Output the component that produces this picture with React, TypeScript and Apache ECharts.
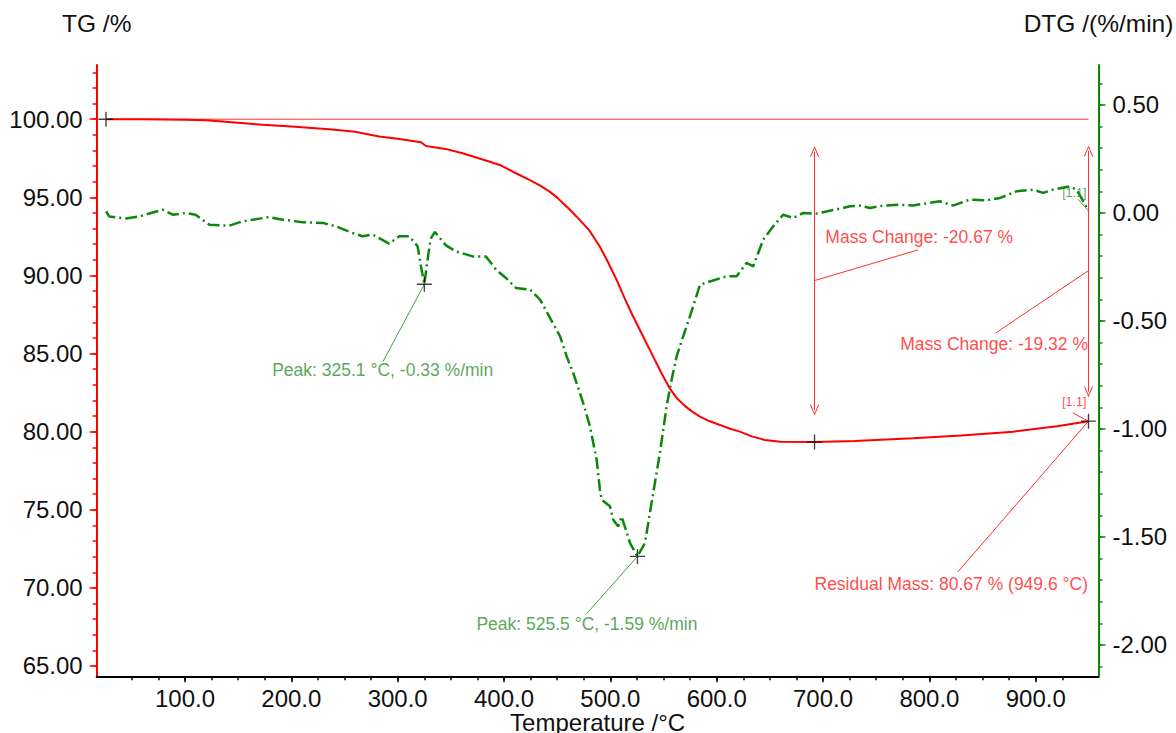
import React, { useEffect, useRef } from 'react';
import * as echarts from 'echarts';

// ---------- data ----------
const tgData: [number, number][] = [
  [25.7, 100.0], [60, 99.99], [100, 99.97], [120, 99.94], [150, 99.78], [173, 99.64],
  [200, 99.53], [235.6, 99.36], [260, 99.2], [282.7, 98.89], [300, 98.75], [322, 98.53],
  [326.6, 98.29], [345, 98.1], [361, 97.82], [386, 97.29], [396, 97.07], [411.2, 96.54],
  [424.4, 96.1], [434, 95.75], [443.2, 95.35], [450, 94.98], [455.5, 94.62], [462, 94.2],
  [468.3, 93.76], [480, 92.9], [490.2, 91.84], [497.7, 90.86], [505.9, 89.71], [513.7, 88.5],
  [520.5, 87.5], [527.8, 86.51], [534, 85.66], [540.3, 84.8], [548, 83.75], [556, 82.75],
  [563, 82.1], [570, 81.65], [577, 81.28], [584.2, 80.96], [593, 80.68], [603, 80.43],
  [612, 80.2], [621.8, 80.0], [633, 79.7], [645.3, 79.47], [660, 79.36],
  [692, 79.33], [730, 79.4], [784.4, 79.58], [830, 79.75], [878.7, 80.0], [920, 80.35], [949.6, 80.67],
];

const dtgData: [number, number][] = [
  [25.8, 0.007], [28.8, -0.016], [44.5, -0.026], [57, -0.016], [79, 0.015], [88.4, -0.008],
  [101, 0], [110, -0.008], [122.9, -0.054], [141.7, -0.059], [154, -0.039], [179, -0.019],
  [192, -0.031], [210.7, -0.043], [229.5, -0.046], [242, -0.062], [257.7, -0.093], [267, -0.108],
  [276.5, -0.1], [292, -0.142], [301.5, -0.108], [310.9, -0.108], [318.8, -0.155], [322, -0.25],
  [325.1, -0.33], [328, -0.22], [331, -0.12], [335, -0.088], [345.4, -0.15], [354.8, -0.178],
  [370.5, -0.201], [383, -0.201], [392.4, -0.262], [401.8, -0.301], [411.2, -0.347], [424.5, -0.355],
  [433.9, -0.401], [452.7, -0.571], [458.9, -0.664], [465.1, -0.741], [474.5, -0.88], [480.8, -0.988],
  [487.1, -1.142], [490.2, -1.281], [491.8, -1.327], [499.6, -1.358], [502.7, -1.42], [507.4, -1.451],
  [510.6, -1.405], [518.5, -1.528], [525.5, -1.59], [532.5, -1.528], [540.3, -1.296], [546.6, -1.111],
  [552.9, -0.895], [557.6, -0.772], [562.3, -0.664], [568.5, -0.571], [577.9, -0.432], [584.3, -0.332],
  [593.6, -0.317], [609.3, -0.293], [618.7, -0.293], [628.1, -0.231], [634.3, -0.247], [643.7, -0.124],
  [653.1, -0.062], [662.5, -0.008], [671.9, -0.023], [681.3, 0], [693.8, -0.003], [703.3, 0.007],
  [718.9, 0.023], [725.2, 0.031], [734.6, 0.034], [744, 0.023], [756.5, 0.034], [772.2, 0.038],
  [784.7, 0.035], [809.8, 0.054], [822.3, 0.034], [837.9, 0.062], [853.6, 0.058], [866.2, 0.069],
  [881.9, 0.1], [897.5, 0.108], [906.9, 0.093], [916.3, 0.108], [932, 0.123], [938.3, 0.108],
  [944, 0.06], [949.6, 0.01],
];

const baseline: [number, number][] = [[25.7, 100], [949.6, 100]];

const tgMarks: [number, number][] = [[25.7, 100], [692, 79.33], [949.6, 80.67]];
const dtgPeaks: [number, number][] = [[325.1, -0.33], [525.5, -1.59]];

const xMajor = [100, 200, 300, 400, 500, 600, 700, 800, 900];
const tgMajor = [65, 70, 75, 80, 85, 90, 95, 100];
const dtgMajor = [-2, -1.5, -1, -0.5, 0, 0.5];

// annotation anchors (data space)
const massArrows: [number, number, number][] = [[692, 97.93, 81.39], [949.6, 97.97, 82.56]];
const redLeaders: [number, number, number, number][] = [
  [692, 89.67, 789.1, 91.63],
  [949.6, 90.31, 862.4, 86.32],
  [934.9, 81.2, 949.6, 80.67],
  [949.6, 80.67, 826.7, 71.02],
];
const greenLeaders: [number, number, number, number][] = [
  [325.1, -0.33, 286.2, -0.688],
  [525.5, -1.59, 477.7, -1.855],
  [940, 0.062, 949.6, 0.01],
];
const redTexts: [number, number, string, string, number][] = [
  [702.6, 92.4, 'Mass Change: -20.67 %', 'left', 17.5],
  [949.6, 85.55, 'Mass Change: -19.32 %', 'right', 17.5],
  [936.7, 81.84, '[1.1]', 'center', 12.5],
  [949.6, 70.19, 'Residual Mass: 80.67 % (949.6 °C)', 'right', 17.5],
];
const greenTexts: [number, number, string, string, number][] = [
  [286.4, -0.729, 'Peak: 325.1 °C, -0.33 %/min', 'center', 17.5],
  [478.4, -1.906, 'Peak: 525.5 °C, -1.59 %/min', 'center', 17.5],
  [936.7, 0.092, '[1.1]', 'center', 12.5],
];

// ---------- styles ----------
const FONT = '"Liberation Sans", Arial, sans-serif';
const RED = '#ff0000';
const GREEN = '#0b870b';
const TXT_RED = '#ff1a1a';
const TXT_GREEN = '#2e8f2e';
const ARROW = 'path://M5,0 L10,12 L9,12.5 L5,2.6 L1,12.5 L0,12 Z';
const CROSS = 'path://M5,0 L6,0 L6,5 L11,5 L11,6 L6,6 L6,11 L5,11 L5,6 L0,6 L0,5 L5,5 Z';

const X_MIN = 17, X_MAX = 959;
const TG_MIN = 64.34, TG_MAX = 103.47;
const DTG_MIN = -2.145, DTG_MAX = 0.685;

function range(a: number, b: number, s: number): number[] {
  const out: number[] = [];
  for (let v = a; v <= b + 1e-9; v += s) out.push(Math.round(v * 1000) / 1000);
  return out;
}

export default function App() {
  const ref = useRef<HTMLDivElement>(null);
  useEffect(() => {
    if (!ref.current) return;
    const chart = echarts.init(ref.current, undefined, { renderer: 'svg' });
    const labelStyle = { fontFamily: FONT, fontSize: 24, color: '#111' };
    const textSeries = (items: [number, number, string, string, number][], yIdx: number, color: string) => ({
      type: 'scatter',
      xAxisIndex: 0,
      yAxisIndex: yIdx,
      symbolSize: 1,
      itemStyle: { color: 'transparent' },
      silent: true,
      z: 5,
      data: items.map(([x, y, t, align, fs]) => ({
        value: [x, y],
        label: {
          show: true,
          position: [0, 0],
          formatter: t,
          align,
          verticalAlign: 'middle',
          color,
          fontSize: fs,
          fontFamily: FONT,
        },
      })),
    });
    const option: any = {
      animation: false,
      backgroundColor: '#fff',
      grid: {
        left: 96.7, right: 77.5, top: 65, bottom: 56.7,
        containLabel: false, outerBoundsMode: 'none',
      },
      xAxis: [
        {
          type: 'value', min: X_MIN, max: X_MAX, position: 'bottom',
          axisLine: { show: true, onZero: false, lineStyle: { color: '#000', width: 2 } },
          axisTick: { show: true, customValues: xMajor, length: 6, lineStyle: { color: '#000', width: 1.5 } },
          axisLabel: { customValues: xMajor, formatter: (v: number) => v.toFixed(1), margin: 10, ...labelStyle },
          splitLine: { show: false },
          name: 'Temperature /°C', nameLocation: 'middle', nameGap: 34, nameMoveOverlap: false,
          nameTextStyle: { fontFamily: FONT, fontSize: 24, color: '#111' },
        },
        {
          type: 'value', min: X_MIN, max: X_MAX, position: 'bottom',
          axisLine: { show: false, onZero: false },
          axisTick: { show: true, customValues: range(50, 925, 25), length: 4, lineStyle: { color: '#000', width: 1.5 } },
          axisLabel: { show: false },
          splitLine: { show: false },
        },
      ],
      yAxis: [
        {
          type: 'value', min: TG_MIN, max: TG_MAX, position: 'left',
          axisLine: { show: true, onZero: false, lineStyle: { color: RED, width: 2 } },
          axisTick: { show: true, customValues: tgMajor, length: 7, lineStyle: { color: RED, width: 1.5 } },
          axisLabel: { customValues: tgMajor, formatter: (v: number) => v.toFixed(2), margin: 14, ...labelStyle },
          splitLine: { show: false },
          name: 'TG /%', nameLocation: 'end', nameGap: 29, nameMoveOverlap: false,
          nameTextStyle: { fontFamily: FONT, fontSize: 24.5, color: '#111' },
        },
        {
          type: 'value', min: DTG_MIN, max: DTG_MAX, position: 'right',
          axisLine: { show: true, onZero: false, lineStyle: { color: GREEN, width: 2 } },
          axisTick: { show: true, customValues: dtgMajor, length: 7, lineStyle: { color: GREEN, width: 1.5 } },
          axisLabel: { customValues: dtgMajor, formatter: (v: number) => v.toFixed(2), margin: 14, ...labelStyle },
          splitLine: { show: false },
          name: 'DTG /(%/min)', nameLocation: 'end', nameGap: 29, nameMoveOverlap: false,
          nameTextStyle: { fontFamily: FONT, fontSize: 24.5, color: '#111' },
        },
        {
          type: 'value', min: TG_MIN, max: TG_MAX, position: 'left',
          axisLine: { show: false, onZero: false },
          axisTick: { show: true, customValues: range(65, 103, 1), length: 4, lineStyle: { color: RED, width: 1.5 } },
          axisLabel: { show: false },
          splitLine: { show: false },
        },
        {
          type: 'value', min: DTG_MIN, max: DTG_MAX, position: 'right',
          axisLine: { show: false, onZero: false },
          axisTick: { show: true, customValues: range(-2.1, 0.6, 0.1), length: 4, lineStyle: { color: GREEN, width: 1.5 } },
          axisLabel: { show: false },
          splitLine: { show: false },
        },
      ],
      series: [
        {
          name: 'baseline', type: 'line', xAxisIndex: 0, yAxisIndex: 0, data: baseline,
          showSymbol: false, silent: true, lineStyle: { color: '#ff3030', width: 1 }, z: 2,
        },
        {
          name: 'TG', type: 'line', xAxisIndex: 0, yAxisIndex: 0, data: tgData,
          showSymbol: false, silent: true,
          lineStyle: { color: RED, width: 2 }, z: 3,
          markLine: {
            silent: true, animation: false, symbol: ['none', 'none'], symbolSize: [9, 11],
            label: { show: false },
            lineStyle: { color: '#ff3030', width: 1, type: 'solid' },
            emphasis: { disabled: true },
            data: [
              ...massArrows.map(([x, y1, y2]) => [
                { coord: [x, y1], symbol: ARROW },
                { coord: [x, y2], symbol: ARROW },
              ]),
              ...redLeaders.map(([x1, y1, x2, y2]) => [{ coord: [x1, y1] }, { coord: [x2, y2] }]),
            ],
          },
        },
        {
          name: 'DTG', type: 'line', xAxisIndex: 0, yAxisIndex: 1, data: dtgData,
          showSymbol: false, silent: true,
          lineStyle: { color: GREEN, width: 2.5, type: [12, 4, 2, 4] }, z: 3,
          markLine: {
            silent: true, animation: false, symbol: ['none', 'none'],
            label: { show: false },
            lineStyle: { color: '#4a9a4a', width: 1, type: 'solid' },
            emphasis: { disabled: true },
            data: greenLeaders.map(([x1, y1, x2, y2]) => [{ coord: [x1, y1] }, { coord: [x2, y2] }]),
          },
        },
        {
          type: 'scatter', xAxisIndex: 0, yAxisIndex: 0, data: tgMarks, symbol: CROSS,
          symbolSize: 15, itemStyle: { color: '#111' }, silent: true, z: 6,
        },
        {
          type: 'scatter', xAxisIndex: 0, yAxisIndex: 1, data: dtgPeaks, symbol: CROSS,
          symbolSize: 15, itemStyle: { color: '#111' }, silent: true, z: 6,
        },
        textSeries(redTexts, 0, TXT_RED),
        textSeries(greenTexts, 1, TXT_GREEN),
      ],
    };
    chart.setOption(option);
    return () => chart.dispose();
  }, []);
  return (
    <div
      ref={ref}
      style={{ position: 'absolute', left: 0, top: 0, width: 1176, height: 733, background: '#fff' }}
    />
  );
}
